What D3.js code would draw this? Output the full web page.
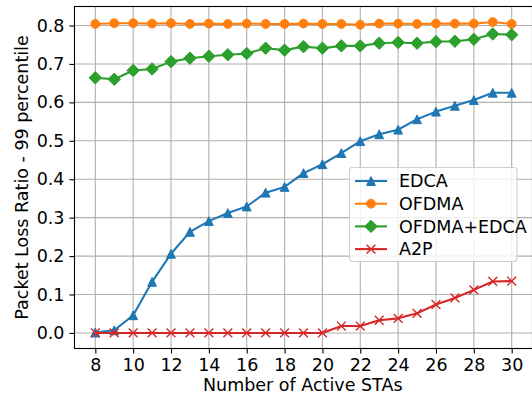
<!DOCTYPE html>
<html><head><meta charset="utf-8">
<script src="https://cdn.jsdelivr.net/npm/d3@7"></script>
<style>body{margin:0;background:#fff}svg{display:block}text{font-family:"DejaVu Sans",sans-serif}</style>
</head><body><svg id="c" width="532" height="396"></svg>
<script>
const stas = [8,9,10,11,12,13,14,15,16,17,18,19,20,21,22,23,24,25,26,27,28,29,30];
const edca = [0.001,0.007,0.046,0.133,0.206,0.263,0.291,0.312,0.329,0.365,0.380,0.416,0.439,0.468,0.499,0.517,0.529,0.556,0.576,0.591,0.606,0.625,0.625];
const ofdma = [0.804,0.806,0.806,0.805,0.806,0.804,0.805,0.804,0.805,0.804,0.804,0.805,0.804,0.804,0.802,0.805,0.805,0.804,0.805,0.805,0.805,0.809,0.804];
const ofdmaEdca = [0.664,0.660,0.683,0.687,0.706,0.715,0.720,0.724,0.727,0.741,0.736,0.745,0.741,0.747,0.747,0.754,0.756,0.754,0.758,0.759,0.764,0.778,0.776];
const a2p = [0,0,0,0,0,0,0,0,0,0,0,0,0,0.018,0.018,0.033,0.038,0.051,0.074,0.091,0.112,0.134,0.135];
const xTicks = [8,10,12,14,16,18,20,22,24,26,28,30];
const yTicks = [0.0,0.1,0.2,0.3,0.4,0.5,0.6,0.7,0.8];
const seriesNames = ["EDCA","OFDMA","OFDMA+EDCA","A2P"];
const seriesColors = ["#1f77b4","#ff7f0e","#2ca02c","#d62728"];
const seriesMarkers = ["triangle","circle","diamond","x"];
const seriesData = [edca, ofdma, ofdmaEdca, a2p];

const svg = d3.select("#c");
const L = 74.5, R = 532.5, T = 6.5, B = 348.5;
const x = d3.scaleLinear().domain([6.9, 31.1]).range([L, R]);
const y = d3.scaleLinear().domain([-0.0405, 0.8495]).range([B, T]);
const FS = 17.5;

// grid
const g = svg.append("g");
g.selectAll(".gx").data(xTicks).enter().append("line")
  .attr("x1", d=>x(d)).attr("x2", d=>x(d)).attr("y1", T).attr("y2", B)
  .attr("stroke", "#b0b0b0").attr("stroke-width", 1.1);
g.selectAll(".gy").data(yTicks).enter().append("line")
  .attr("y1", d=>y(d)).attr("y2", d=>y(d)).attr("x1", L).attr("x2", R)
  .attr("stroke", "#b0b0b0").attr("stroke-width", 1.1);

// axes
const xAxis = d3.axisBottom(x).tickValues(xTicks).tickSize(5).tickPadding(5).tickFormat(d3.format("d"));
const yAxis = d3.axisLeft(y).tickValues(yTicks).tickSize(5).tickPadding(5).tickFormat(d3.format(".1f"));
const gx = svg.append("g").attr("transform", `translate(0,${B})`).call(xAxis);
const gy = svg.append("g").attr("transform", `translate(${L},0)`).call(yAxis);
[gx, gy].forEach(a => {
  a.select(".domain").remove();
  a.selectAll("line").attr("stroke", "#000").attr("stroke-width", 1.1);
  a.selectAll("text").attr("font-size", FS).attr("fill", "#000").style("font-family", "DejaVu Sans");
});
// spines
svg.append("rect").attr("x", L).attr("y", T).attr("width", R - L).attr("height", B - T)
  .attr("fill", "none").attr("stroke", "#000").attr("stroke-width", 1.1);

// marker symbols
const ms = 8.8;
function drawMarker(sel, type, color) {
  if (type === "circle") {
    sel.append("circle").attr("r", ms/2).attr("fill", color).attr("stroke", color).attr("stroke-width", 1);
  } else if (type === "triangle") {
    const h = ms/2;
    sel.append("path").attr("d", `M0,${-h}L${h},${h}L${-h},${h}Z`).attr("fill", color).attr("stroke", color).attr("stroke-width", 1);
  } else if (type === "diamond") {
    const h = ms*0.707;
    sel.append("path").attr("d", `M0,${-h}L${h},0L0,${h}L${-h},0Z`).attr("fill", color).attr("stroke", color).attr("stroke-width", 1);
  } else if (type === "x") {
    const h = ms/2;
    sel.append("path").attr("d", `M${-h},${-h}L${h},${h}M${-h},${h}L${h},${-h}`).attr("fill", "none").attr("stroke", color).attr("stroke-width", 1.4);
  }
}

const line = d3.line().x((d,i)=>x(stas[i])).y(d=>y(d));
seriesData.forEach((vals, si) => {
  const c = seriesColors[si];
  svg.append("path").datum(vals).attr("d", line).attr("fill", "none")
    .attr("stroke", c).attr("stroke-width", 2.1).attr("stroke-linejoin", "round").attr("stroke-linecap", "square");
  vals.forEach((v, i) => {
    const m = svg.append("g").attr("transform", `translate(${x(stas[i])},${y(v)})`);
    drawMarker(m, seriesMarkers[si], c);
  });
});

// axis labels
svg.append("text").attr("x", (L + 531) / 2 + 0).attr("y", 391).attr("text-anchor", "middle")
  .attr("font-size", FS).text("Number of Active STAs");
svg.append("text").attr("transform", `translate(28,${(T + B) / 2}) rotate(-90)`).attr("text-anchor", "middle")
  .attr("font-size", FS).text("Packet Loss Ratio - 99 percentile");

// legend
const lg = svg.append("g");
lg.append("rect").attr("x", 349.5).attr("y", 167.5).attr("width", 167.5).attr("height", 94).attr("rx", 3)
  .attr("fill", "#fff").attr("fill-opacity", 0.8).attr("stroke", "#d0d0d0").attr("stroke-width", 1.1);
seriesNames.forEach((n, i) => {
  const yy = 181 + i * 22.7;
  lg.append("line").attr("x1", 355).attr("x2", 387).attr("y1", yy).attr("y2", yy)
    .attr("stroke", seriesColors[i]).attr("stroke-width", 2.1);
  const m = lg.append("g").attr("transform", `translate(371,${yy})`);
  drawMarker(m, seriesMarkers[i], seriesColors[i]);
  lg.append("text").attr("x", 399).attr("y", yy).attr("dy", "0.35em").attr("font-size", FS).text(n);
});
</script></body></html>
